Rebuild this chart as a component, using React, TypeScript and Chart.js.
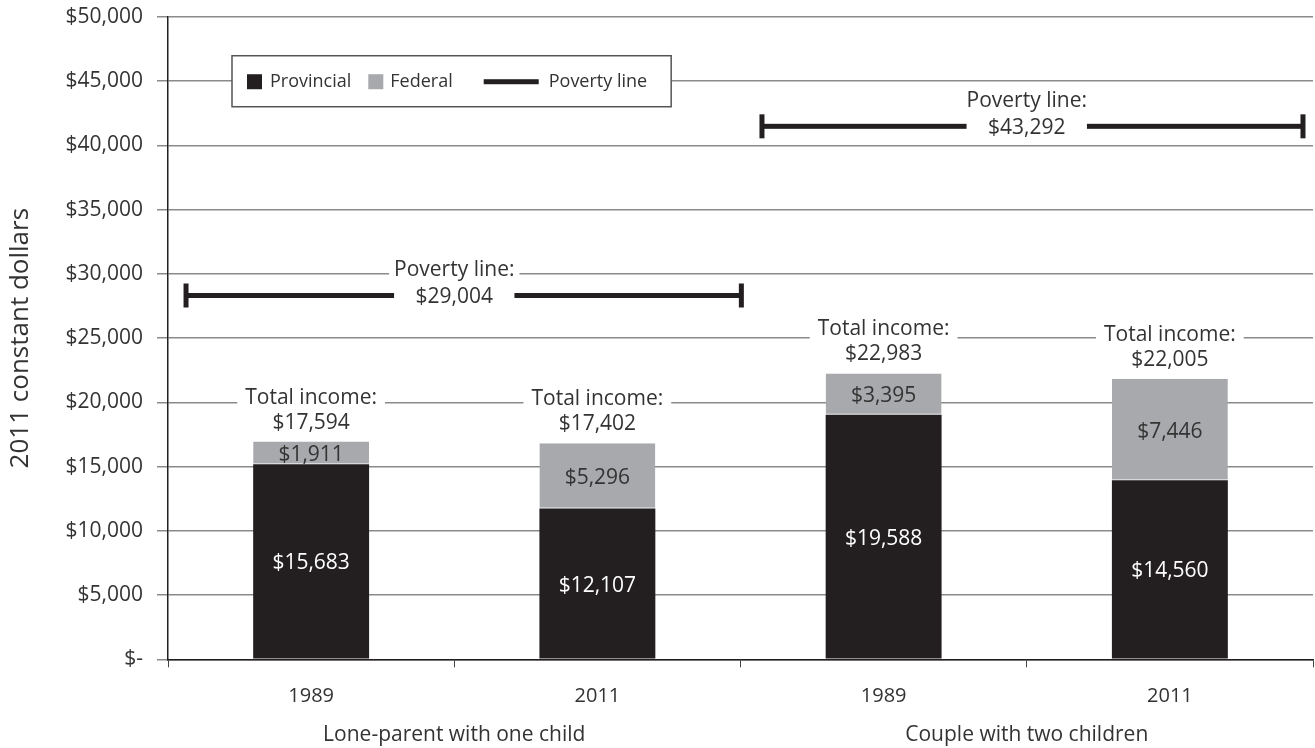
import React, { useEffect, useRef } from 'react';
import { Chart, registerables } from 'chart.js';

Chart.register(...registerables);

// ---- data ----
const categories = ['1989', '2011', '1989', '2011'];
const groups = ['Lone-parent with one child', 'Couple with two children'];
// bar heights as drawn in the picture
const provincial = [15190, 11730, 19030, 13940];
const federal = [1760, 5090, 3220, 7890];
// printed figures
const provincialLabels = ['$15,683', '$12,107', '$19,588', '$14,560'];
const federalLabels = ['$1,911', '$5,296', '$3,395', '$7,446'];
const totalLabels = ['$17,594', '$17,402', '$22,983', '$22,005'];
const povertyValues = [28320, 41490];
const povertyLabels = ['$29,004', '$43,292'];
const yTicks = [0, 5000, 10000, 15000, 20000, 25000, 30000, 35000, 40000, 45000, 50000];
const legendItems = ['Provincial', 'Federal', 'Poverty line'];

// ---- styles ----
const FONT = "'Open Sans', Lato, sans-serif";
const TEXT = '#333333';
const DARK = '#231f20';
const GREY = '#a7a9ac';
const GRID = '#8a8a8a';

const POVERTY_INSETS = [
  [0.437, 0.503],
  [0.425, 0.465],
];

function bgText(ctx: CanvasRenderingContext2D, text: string, x: number, y: number, padX: number, h: number) {
  const w = ctx.measureText(text).width;
  ctx.fillStyle = '#ffffff';
  ctx.fillRect(x - w / 2 - padX, y - h / 2, w + padX * 2, h);
  ctx.fillStyle = TEXT;
  ctx.fillText(text, x, y);
}

const annotations = {
  id: 'annotations',
  afterDatasetsDraw(chart: any) {
    const ctx: CanvasRenderingContext2D = chart.ctx;
    const xs = chart.scales.x;
    const ys = chart.scales.y;
    const metaP = chart.getDatasetMeta(0);
    const metaF = chart.getDatasetMeta(1);
    ctx.save();
    ctx.textAlign = 'center';
    ctx.textBaseline = 'middle';
    ctx.font = `21px ${FONT}`;

    metaP.data.forEach((bar: any, i: number) => {
      const { x, y, base } = bar.getProps(['x', 'y', 'base'], true);
      ctx.fillStyle = '#ffffff';
      ctx.fillText(provincialLabels[i], x, (y + base) / 2 + 2);
    });
    metaF.data.forEach((bar: any, i: number) => {
      const { x, y, base } = bar.getProps(['x', 'y', 'base'], true);
      ctx.fillStyle = TEXT;
      ctx.fillText(federalLabels[i], x, (y + base) / 2 + 2);
      bgText(ctx, 'Total income:', x, y - 44, 8, 24);
      ctx.fillStyle = TEXT;
      ctx.fillText(totalLabels[i], x, y - 19);
    });

    const unit = xs.getPixelForValue(1) - xs.getPixelForValue(0);
    povertyValues.forEach((v, g) => {
      const py = ys.getPixelForValue(v);
      const c0 = xs.getPixelForValue(2 * g);
      const c1 = xs.getPixelForValue(2 * g + 1);
      const left = c0 - unit * POVERTY_INSETS[g][0];
      const right = c1 + unit * POVERTY_INSETS[g][1];
      const mid = (c0 + c1) / 2;
      const half = ctx.measureText('Poverty line:').width / 2;
      ctx.fillStyle = DARK;
      ctx.fillRect(left, py - 2.5, mid - half - left, 5);
      ctx.fillRect(mid + half, py - 2.5, right - mid - half, 5);
      ctx.fillRect(left - 2.5, py - 12, 5, 24);
      ctx.fillRect(right - 2.5, py - 12, 5, 24);
      bgText(ctx, 'Poverty line:', mid, py - 25, 5, 20);
      ctx.fillStyle = TEXT;
      ctx.fillText(povertyLabels[g], mid, py + 2);
    });
    ctx.restore();
  },
  afterDraw(chart: any) {
    const ctx: CanvasRenderingContext2D = chart.ctx;
    const area = chart.chartArea;
    const cy = chart.scales.y.getPixelForValue(45000);
    const left = area.left + 64;
    const h = 51;
    ctx.save();
    ctx.font = `18px ${FONT}`;
    ctx.textBaseline = 'middle';
    ctx.textAlign = 'left';
    const widths = legendItems.map((t) => ctx.measureText(t).width);
    const total = 15 + 23 + widths[0] + 17 + 22 + widths[1] + 31 + 55 + 10 + widths[2] + 24;
    ctx.fillStyle = '#ffffff';
    ctx.fillRect(left, cy - h / 2, total, h);
    ctx.strokeStyle = '#555555';
    ctx.lineWidth = 1.5;
    ctx.strokeRect(left, cy - h / 2, total, h);
    let x = left + 15;
    ctx.fillStyle = DARK;
    ctx.fillRect(x, cy - 7, 15, 15);
    x += 23;
    ctx.fillStyle = TEXT;
    ctx.fillText(legendItems[0], x, cy + 1);
    x += widths[0] + 17;
    ctx.fillStyle = GREY;
    ctx.fillRect(x, cy - 7, 15, 15);
    x += 22;
    ctx.fillStyle = TEXT;
    ctx.fillText(legendItems[1], x, cy + 1);
    x += widths[1] + 31;
    ctx.fillStyle = DARK;
    ctx.fillRect(x, cy - 2, 55, 5);
    x += 65;
    ctx.fillStyle = TEXT;
    ctx.fillText(legendItems[2], x, cy + 1);
    ctx.restore();
  },
};

export default function App() {
  const ref = useRef<HTMLCanvasElement | null>(null);
  useEffect(() => {
    if (!ref.current) return;
    const chart = new Chart(ref.current, {
      type: 'bar',
      data: {
        labels: categories,
        datasets: [
          { label: 'Provincial', data: provincial, backgroundColor: DARK, stack: 's' },
          {
            label: 'Federal',
            data: federal,
            backgroundColor: GREY,
            stack: 's',
            borderColor: '#e4e4e4',
            borderWidth: { top: 0, left: 0, right: 0, bottom: 1 },
            borderSkipped: false,
          },
        ],
      },
      options: {
        animation: false,
        responsive: true,
        maintainAspectRatio: false,
        layout: { padding: { top: 17, right: 2, left: 0, bottom: 0 } },
        datasets: { bar: { barPercentage: 0.405, categoryPercentage: 1 } },
        plugins: { legend: { display: false }, tooltip: { enabled: false } },
        scales: {
          x: {
            stacked: true,
            offset: true,
            grid: { drawOnChartArea: false, drawTicks: true, tickLength: 8, color: '#444', offset: true },
            border: { color: DARK, width: 1.5 },
            ticks: { font: { family: FONT, size: 20 }, color: TEXT, padding: 17 },
            afterFit: (s: any) => {
              s.height = 50;
              s.paddingLeft = 0;
              s.paddingRight = 0;
            },
          },
          x2: {
            type: 'category',
            labels: groups,
            position: 'bottom',
            offset: true,
            grid: { display: false, drawTicks: false },
            border: { display: false },
            ticks: { font: { family: FONT, size: 21 }, color: TEXT, padding: 13 },
            afterFit: (s: any) => {
              s.height = 38.7;
              s.paddingLeft = 0;
              s.paddingRight = 0;
            },
          },
          y: {
            stacked: true,
            min: 0,
            max: 50000,
            afterBuildTicks: (s: any) => {
              s.ticks = yTicks.map((v) => ({ value: v }));
            },
            ticks: {
              font: { family: FONT, size: 21 },
              color: TEXT,
              padding: 14,
              callback: (v: any) => (Number(v) === 0 ? '$-' : '$' + Number(v).toLocaleString('en-US')),
            },
            grid: { color: GRID, lineWidth: 1.5, tickLength: 11 },
            border: { color: DARK, width: 1.5 },
            title: {
              display: true,
              text: '2011 constant dollars',
              font: { family: FONT, size: 26 },
              color: TEXT,
              padding: { top: 5, bottom: 0 },
            },
            afterFit: (s: any) => {
              s.width = 168;
              s.paddingTop = 0;
              s.paddingBottom = 0;
            },
          },
        },
      },
      plugins: [annotations],
    });
    return () => chart.destroy();
  }, []);
  return (
    <div style={{ position: 'fixed', left: 0, top: 0, width: 1315, height: 748, background: '#fff' }}>
      <canvas ref={ref} />
    </div>
  );
}
